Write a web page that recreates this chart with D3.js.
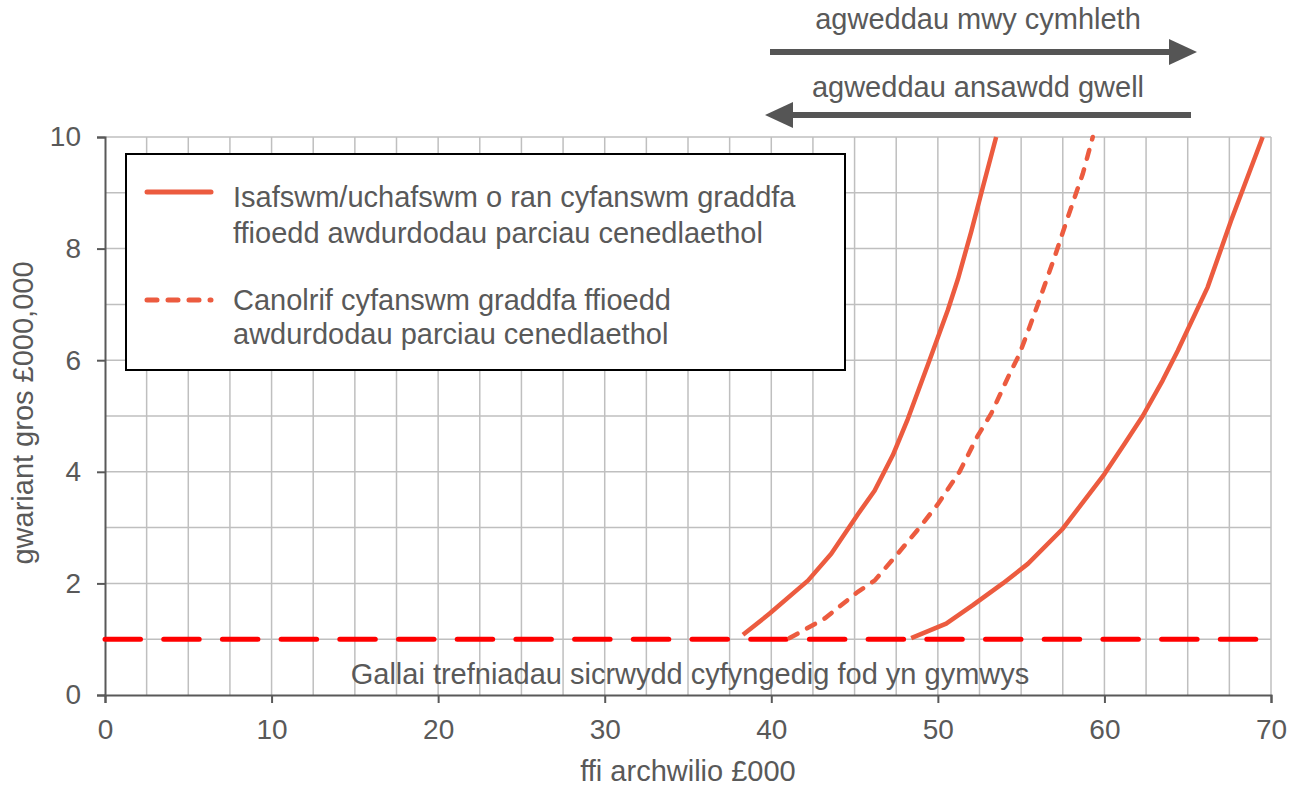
<!DOCTYPE html>
<html>
<head>
<meta charset="utf-8">
<script src="https://cdn.jsdelivr.net/npm/d3@7"></script>
<style>
body { margin: 0; background: #fff; }
text { font-family: "Liberation Sans", Arial, sans-serif; fill: #595959; }
</style>
</head>
<body>
<div id="chart"></div>
<script>
// data (x = ffi £000, y = gwariant £000,000)
var lowerX = [38.3, 39.9, 42.2, 43.6, 45.2, 46.2, 47.3, 48.2, 49.5, 50.6, 51.2, 52.0, 52.7, 53.5];
var lowerY = [1.08, 1.46, 2.05, 2.53, 3.24, 3.66, 4.3, 4.95, 6.0, 6.9, 7.45, 8.3, 9.1, 10];
var medianX = [41.1, 43.2, 45.2, 46.2, 47.5, 48.9, 50.0, 51.3, 52.4, 53.2, 54.3, 54.9, 55.5, 56.0, 57.0, 57.8, 58.7, 59.3];
var medianY = [1.02, 1.37, 1.85, 2.05, 2.5, 3.0, 3.42, 4.0, 4.65, 5.04, 5.75, 6.11, 6.59, 7.0, 7.84, 8.56, 9.34, 10];
var upperX = [48.4, 50.5, 52.1, 53.9, 55.4, 57.5, 60.0, 61.2, 62.3, 63.5, 64.4, 66.2, 67.6, 69.5];
var upperY = [1.02, 1.28, 1.61, 2.0, 2.35, 2.98, 3.96, 4.5, 5.0, 5.64, 6.17, 7.31, 8.5, 10];
var thresholdX = [0, 69.3];
var thresholdY = [1, 1];

var xTicks = [0, 10, 20, 30, 40, 50, 60, 70];
var yTicks = [0, 2, 4, 6, 8, 10];
var legendLabels = [
    ["Isafswm/uchafswm o ran cyfanswm graddfa", "ffioedd awdurdodau parciau cenedlaethol"],
    ["Canolrif cyfanswm graddfa ffioedd", "awdurdodau parciau cenedlaethol"]
];

var W = 1306, H = 787;
var pLeft = 105, pRight = 1271, pTop = 137, pBottom = 695;
var lineCol = "#EC5B3F";
var fs = "29px";

var svg = d3.select("#chart").append("svg").attr("width", W).attr("height", H);

var x = d3.scaleLinear().domain([0, 70]).range([pLeft, pRight]);
var y = d3.scaleLinear().domain([0, 10]).range([pBottom, pTop]);

// gridlines
svg.append("g").selectAll("line").data(d3.range(2.5, 70.01, 2.5)).enter().append("line")
    .attr("x1", d => x(d)).attr("x2", d => x(d)).attr("y1", pTop).attr("y2", pBottom)
    .attr("stroke", "#BFBFBF").attr("stroke-width", 1.5);
svg.append("g").selectAll("line").data(d3.range(1, 10.01, 1)).enter().append("line")
    .attr("x1", pLeft).attr("x2", pRight).attr("y1", d => y(d)).attr("y2", d => y(d))
    .attr("stroke", "#BFBFBF").attr("stroke-width", 1.5);

// axes
var xAxis = svg.append("g").attr("transform", "translate(0," + pBottom + ")")
    .call(d3.axisBottom(x).tickValues(xTicks).tickSize(8).tickPadding(16));
var yAxis = svg.append("g").attr("transform", "translate(" + pLeft + ",0)")
    .call(d3.axisLeft(y).tickValues(yTicks).tickSize(8).tickPadding(16));
[xAxis, yAxis].forEach(function(a){
    a.select(".domain").attr("stroke", "#595959").attr("stroke-width", 2);
    a.selectAll(".tick line").attr("stroke", "#595959").attr("stroke-width", 2);
    a.selectAll(".tick text").style("font-size", "28px").attr("fill", "#595959")
        .style("font-family", "'Liberation Sans', Arial, sans-serif");
});

// axis titles
svg.append("text").text("ffi archwilio £000").attr("x", 688).attr("y", 781)
    .attr("text-anchor", "middle").style("font-size", fs);
svg.append("text").text("gwariant gros £000,000")
    .attr("transform", "translate(33,413) rotate(-90)")
    .attr("text-anchor", "middle").style("font-size", fs);

// threshold line
var line = d3.line().x(d => x(d[0])).y(d => y(d[1]));
svg.append("path").datum(d3.zip(thresholdX, thresholdY)).attr("d", line)
    .attr("fill", "none").attr("stroke", "#FF0000").attr("stroke-width", 5)
    .attr("stroke-linecap", "round").attr("stroke-dasharray", "35.5,23.2");

svg.append("text").text("Gallai trefniadau sicrwydd cyfyngedig fod yn gymwys")
    .attr("x", 690).attr("y", 684).attr("text-anchor", "middle").style("font-size", fs);

// curves
svg.append("path").datum(d3.zip(lowerX, lowerY)).attr("d", line)
    .attr("fill", "none").attr("stroke", lineCol).attr("stroke-width", 4.5).attr("stroke-linejoin", "round");
svg.append("path").datum(d3.zip(upperX, upperY)).attr("d", line)
    .attr("fill", "none").attr("stroke", lineCol).attr("stroke-width", 4.5).attr("stroke-linejoin", "round");
svg.append("path").datum(d3.zip(medianX, medianY)).attr("d", line)
    .attr("fill", "none").attr("stroke", lineCol).attr("stroke-width", 4.5)
    .attr("stroke-linecap", "round").attr("stroke-dasharray", "9,11");

// legend
svg.append("rect").attr("x", 126).attr("y", 154).attr("width", 719).attr("height", 216)
    .attr("fill", "#fff").attr("stroke", "#000").attr("stroke-width", 2);
svg.append("line").attr("x1", 147).attr("x2", 211).attr("y1", 192).attr("y2", 192)
    .attr("stroke", lineCol).attr("stroke-width", 5).attr("stroke-linecap", "round");
svg.append("line").attr("x1", 147).attr("x2", 211).attr("y1", 300).attr("y2", 300)
    .attr("stroke", lineCol).attr("stroke-width", 5).attr("stroke-linecap", "round")
    .attr("stroke-dasharray", "10,11");
var legY = [[207, 243], [310, 344]];
legendLabels.forEach(function(lines, i){
    lines.forEach(function(t, j){
        svg.append("text").text(t).attr("x", 233).attr("y", legY[i][j]).style("font-size", fs);
    });
});

// arrows on top
var arrowCol = "#555555";
function arrow(x1, x2, yy){
    var dir = x2 > x1 ? 1 : -1;
    svg.append("line").attr("x1", x1).attr("x2", x2 - dir * 26).attr("y1", yy).attr("y2", yy)
        .attr("stroke", arrowCol).attr("stroke-width", 6);
    svg.append("path")
        .attr("d", "M" + x2 + "," + yy + "L" + (x2 - dir * 28) + "," + (yy - 13) + "L" + (x2 - dir * 28) + "," + (yy + 13) + "Z")
        .attr("fill", arrowCol);
}
arrow(770, 1197, 52);
arrow(1191, 765, 115);
svg.append("text").text("agweddau mwy cymhleth").attr("x", 978).attr("y", 29)
    .attr("text-anchor", "middle").style("font-size", fs);
svg.append("text").text("agweddau ansawdd gwell").attr("x", 978).attr("y", 97)
    .attr("text-anchor", "middle").style("font-size", fs);
</script>
</body>
</html>
